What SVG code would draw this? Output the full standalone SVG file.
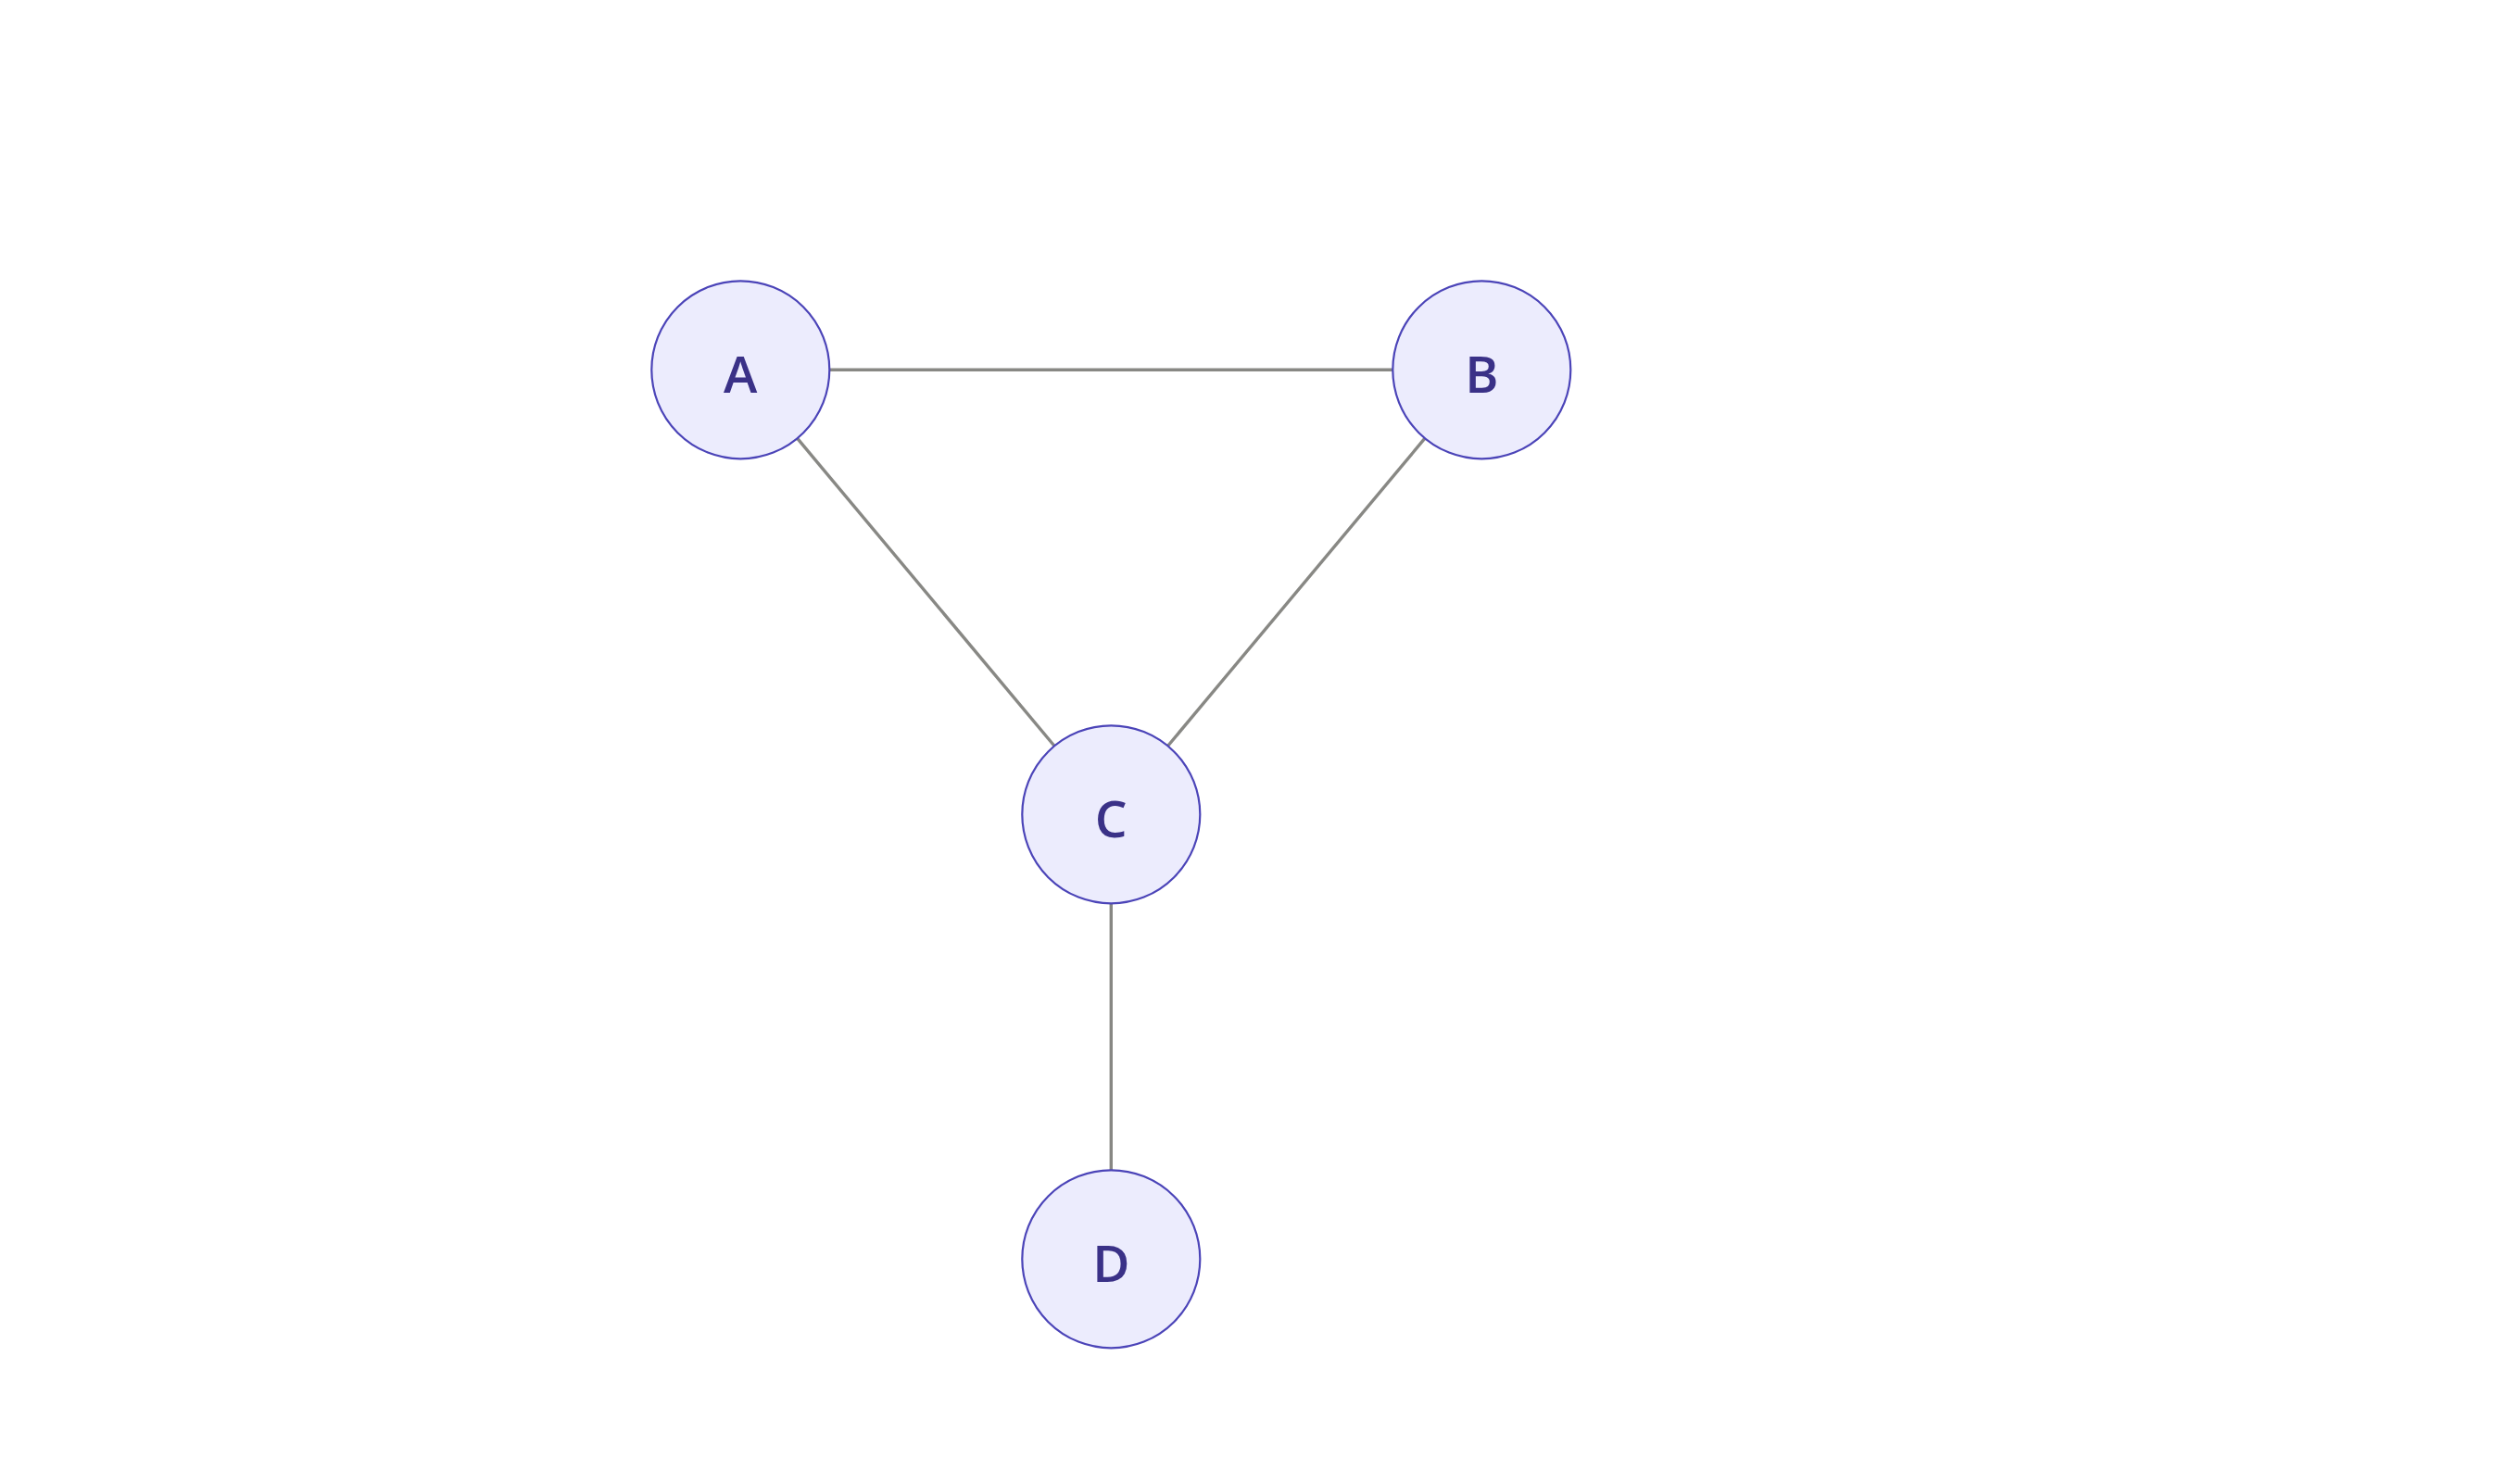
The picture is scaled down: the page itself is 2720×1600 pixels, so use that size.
<svg xmlns="http://www.w3.org/2000/svg" width="2720" height="1600" viewBox="0 0 2720 1600">
<style>
.edge{stroke:#888884;stroke-width:3.4;fill:none}
.node circle{fill:#ECECFD;stroke:#4B44B8;stroke-width:2.2}
.node text{font-family:"Open Sans","Noto Sans",sans-serif;font-weight:600;font-size:55px;fill:#3A3187;text-anchor:middle}
</style>
<rect width="2720" height="1600" fill="#ffffff"/>
<g id="edges">
<line class="edge" x1="895" y1="399.3" x2="1503.5" y2="399.3"/>
<line class="edge" x1="860.5" y1="473.2" x2="1138.2" y2="805.5"/>
<line class="edge" x1="1538" y1="473.2" x2="1260.4" y2="805.5"/>
<line class="edge" x1="1199.3" y1="975.3" x2="1199.3" y2="1263.5"/>
</g>
<g id="node-A" class="node"><circle cx="799.3" cy="399.3" r="96"/><text x="799.3" y="423.5">A</text></g>
<g id="node-B" class="node"><circle cx="1599.3" cy="399.3" r="96"/><text x="1599.3" y="423.5">B</text></g>
<g id="node-C" class="node"><circle cx="1199.3" cy="879.3" r="96"/><text x="1199.3" y="903.5">C</text></g>
<g id="node-D" class="node"><circle cx="1199.3" cy="1359.3" r="96"/><text x="1199.3" y="1383.5">D</text></g>
</svg>
